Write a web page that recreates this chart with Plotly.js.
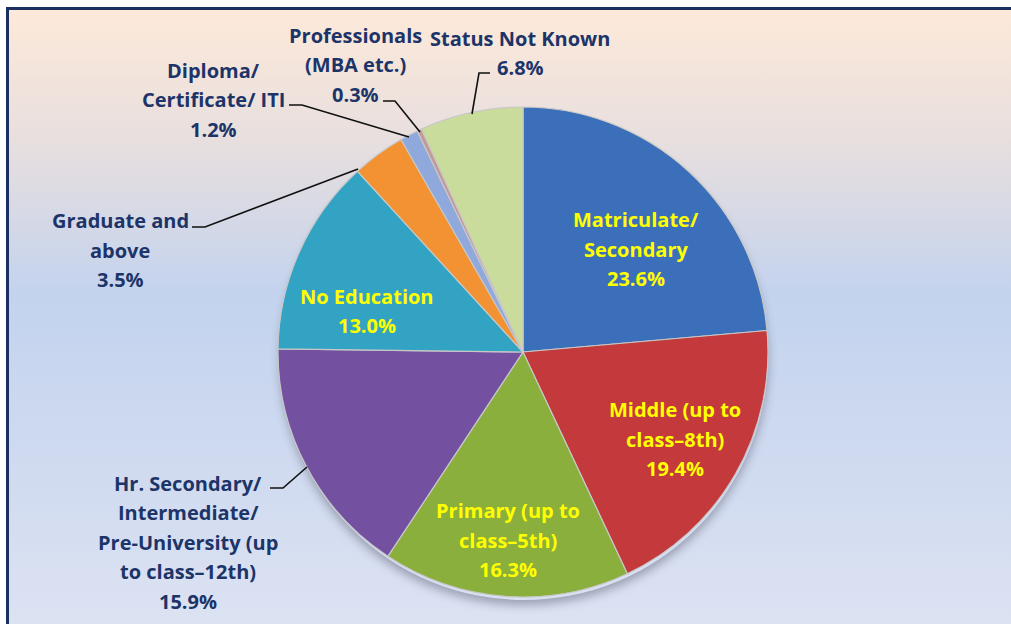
<!DOCTYPE html>
<html>
<head>
<meta charset="utf-8">
<script src="https://cdn.plot.ly/plotly-3.0.1.min.js"></script>
<style>
  html, body { margin: 0; padding: 0; background: #ffffff; overflow: hidden; width: 1011px; height: 624px; }
  #bg { position: absolute; left: 6px; top: 7px; width: 1020px; height: 640px;
        border: 3px solid #1b2f62; box-sizing: border-box;
        background: linear-gradient(to bottom, #fde9d9 0%, #e6dedf 22%, #c3d3ee 45%, #cfdaf0 70%, #dde3f2 100%); }
  #shadow { position: absolute; left: 280px; top: 112px; width: 488px; height: 488px; border-radius: 50%;
        box-shadow: 0 5px 10px rgba(40,40,60,0.35); }
  #chart { position: absolute; left: 0; top: 0; width: 1011px; height: 624px; }
</style>
</head>
<body>
<div id="bg"></div>
<div id="shadow"></div>
<div id="chart"></div>
<script>
// ---- data ----
const categories = [
  "Matriculate/<br>Secondary",
  "Middle (up to<br>class\u20138th)",
  "Primary (up to<br>class\u20135th)",
  "Hr. Secondary/<br>Intermediate/<br>Pre-University (up<br>to class\u201312th)",
  "No Education",
  "Graduate and<br>above",
  "Diploma/<br>Certificate/ ITI",
  "Professionals<br>(MBA etc.)",
  "Status Not Known"
];
const shares = [23.6, 19.4, 16.3, 15.9, 13.0, 3.5, 1.2, 0.3, 6.8];
const sliceColors = ["#3b6fb9", "#c4393b", "#8aaf3c", "#7351a0", "#32a3c2", "#f29232", "#8fa9dc", "#c49a98", "#c9dc9c"];

// ---- label styling / placement (pixels in 1011x624 canvas) ----
const W = 1011, H = 624;
const labelPos = [
  [636, 249], [675, 439], [508, 540], [188, 542], [367, 311],
  [120, 250], [213, 100], [355, 65], [520, 53]
];
const labelInside = [true, true, true, false, true, false, false, false, false];
const lineH = 29.5;
const leaderPaths = [
  null, null, null,
  [[270, 488], [283, 488], [307, 467]],
  null,
  [[192, 227], [205, 227], [358, 169]],
  [[289, 105], [302, 105], [409, 137]],
  [[383, 101], [395, 101], [420, 132]],
  [[472, 114], [479, 73], [490, 73]]
];

const fontFam = "'Open Sans', sans-serif";
const annotations = [];
categories.forEach((c, i) => {
  const lines = c.split("<br>").concat([shares[i].toFixed(1) + "%"]);
  const n = lines.length;
  lines.forEach((t, k) => {
    const py = labelPos[i][1] + (k - (n - 1) / 2) * lineH;
    annotations.push({
      text: "<b>" + t + "</b>",
      x: labelPos[i][0] / W, y: 1 - py / H,
      xref: "paper", yref: "paper", xanchor: "center", yanchor: "middle",
      showarrow: false, align: "center",
      font: { family: fontFam, size: 20, color: labelInside[i] ? "#ffff00" : "#1c3468" }
    });
  });
});

const shapes = [];
leaderPaths.forEach(p => {
  if (!p) return;
  const d = p.map((pt, k) => (k ? "L" : "M") + (pt[0] / W).toFixed(5) + "," + (1 - pt[1] / H).toFixed(5)).join(" ");
  shapes.push({ type: "path", xref: "paper", yref: "paper", path: d, line: { color: "#111111", width: 1.6 } });
});

const cx = 523, cy = 352, r = 245;
const trace = {
  type: "pie",
  labels: categories,
  values: shares,
  sort: false,
  direction: "clockwise",
  rotation: 0,
  textinfo: "none",
  hoverinfo: "none",
  marker: { colors: sliceColors, line: { color: "#c8c8c8", width: 1.2 } },
  domain: { x: [(cx - r) / W, (cx + r) / W], y: [1 - (cy + r) / H, 1 - (cy - r) / H] }
};

const layout = {
  width: W, height: H,
  margin: { l: 0, r: 0, t: 0, b: 0 },
  paper_bgcolor: "rgba(0,0,0,0)",
  plot_bgcolor: "rgba(0,0,0,0)",
  showlegend: false,
  annotations: annotations,
  shapes: shapes
};

Plotly.newPlot("chart", [trace], layout, { staticPlot: true, displayModeBar: false });
</script>
</body>
</html>
